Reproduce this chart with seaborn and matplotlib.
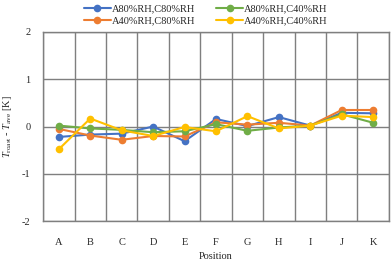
import matplotlib
matplotlib.use("Agg")
import matplotlib.pyplot as plt
import seaborn as sns
import pandas as pd
import numpy as np

positions = ["A", "B", "C", "D", "E", "F", "G", "H", "I", "J", "K"]
series_names = ["A80%RH,C80%RH", "A40%RH,C80%RH", "A80%RH,C40%RH", "A40%RH,C40%RH"]
a80_c80 = [-0.22, -0.17, -0.15, 0.00, -0.31, 0.16, 0.01, 0.20, 0.02, 0.29, 0.28]
a40_c80 = [-0.05, -0.19, -0.28, -0.20, -0.21, 0.09, 0.04, 0.08, 0.02, 0.35, 0.35]
a80_c40 = [0.02, -0.04, -0.07, -0.12, -0.10, 0.05, -0.09, -0.02, 0.02, 0.26, 0.08]
a40_c40 = [-0.48, 0.17, -0.08, -0.20, -0.01, -0.10, 0.22, -0.04, 0.02, 0.23, 0.20]
colors = ["#4472C4", "#ED7D31", "#70AD47", "#FFC000"]

rows = []
for name, vals in zip(series_names, [a80_c80, a40_c80, a80_c40, a40_c40]):
    for i, (p, v) in enumerate(zip(positions, vals)):
        rows.append({"idx": i, "Position": p, "value": v, "series": name})
df = pd.DataFrame(rows)

sns.set_theme(style="white")
plt.rcParams["font.family"] = ["Liberation Serif", "DejaVu Serif"]
plt.rcParams["mathtext.fontset"] = "custom"
plt.rcParams["mathtext.rm"] = "Liberation Serif"
plt.rcParams["mathtext.it"] = "Liberation Serif:italic"
plt.rcParams["axes.unicode_minus"] = False

fig = plt.figure(figsize=(3.92, 2.62), dpi=100)
ax = fig.add_axes([0.110, 0.156, 0.882, 0.722])

sns.lineplot(data=df, x="idx", y="value", hue="series", hue_order=series_names,
             palette=colors, marker="o", markersize=5.5, markeredgewidth=0,
             linewidth=1.5, ax=ax, legend=True)

ax.set_xlim(-0.5, 10.5)
ax.set_ylim(-2, 2)
ax.set_yticks([-2, -1, 0, 1, 2])
ax.set_xticks(range(len(positions)))
ax.set_xticklabels(positions)
ax.set_xticks(np.arange(-0.5, 10.6, 1), minor=True)
ax.grid(False)
ax.grid(True, which="minor", axis="x", color="#7f7f7f", linewidth=1.0)
ax.grid(True, which="major", axis="y", color="#7f7f7f", linewidth=1.0)
ax.set_axisbelow(True)
ax.tick_params(axis="both", which="both", length=0, labelsize=7.5)
ax.tick_params(axis="x", pad=12)
ax.tick_params(axis="y", pad=9)
for s in ax.spines.values():
    s.set_color("#7f7f7f")
    s.set_linewidth(1.0)

ax.set_xlabel("Position", fontsize=7.5, labelpad=4)
ax.set_ylabel(r"$T_{\rm roast}$ - $T_{\rm ave}$ [K]", fontsize=7.5, labelpad=6)

handles, labels = ax.get_legend_handles_labels()
ax.legend(handles, labels, ncol=2, loc="lower center", bbox_to_anchor=(0.47, 1.0),
          frameon=False, fontsize=7.5, handlelength=2.6, handletextpad=0.1,
          columnspacing=2.0, labelspacing=0.3, borderaxespad=0.2)

fig.savefig("out.png", dpi=100)
